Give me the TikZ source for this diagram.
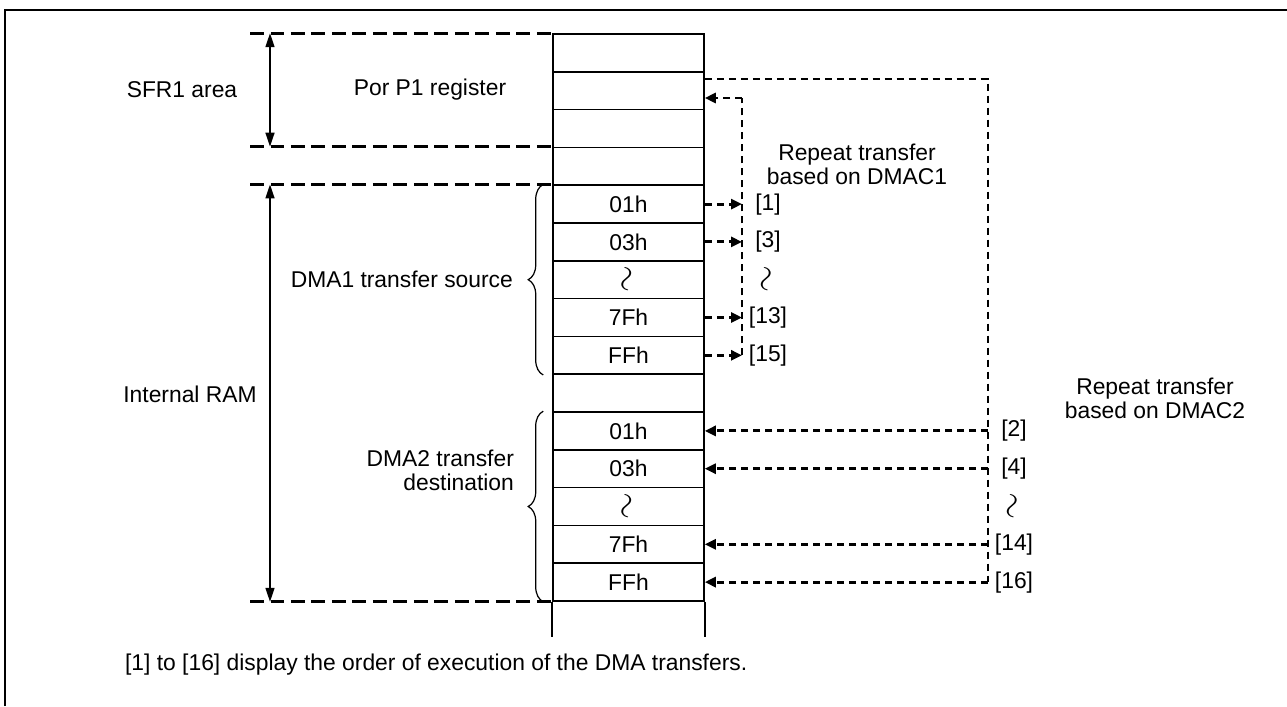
\documentclass[tikz,border=0pt]{standalone}
\usepackage{fontspec}
\usepackage{graphicx}
\setmainfont{Liberation Sans}
\usetikzlibrary{arrows.meta,decorations.pathreplacing}
\newcommand{\squig}{\rotatebox{80}{\scalebox{1.6}{$\sim$}}}

\begin{document}
\begin{tikzpicture}[x=0.02cm,y=-0.02cm,font=\fontsize{13}{13.5}\selectfont,>={Triangle[length=0.28cm,width=0.18cm]},
  cell/.style={draw,line width=0.9pt,minimum width=3.02cm,minimum height=0.756cm,inner sep=0pt},
  lbl/.style={inner sep=1pt,align=center},
  sep/.style={line width=1.5pt,dash pattern=on 0.28cm off 0.13cm},
  dim/.style={<->,line width=0.9pt},
  fl/.style={line width=1.6pt,dash pattern=on 0.15cm off 0.09cm},
  fla/.style={fl,-{Triangle[length=0.22cm,width=0.2cm]}},
  brc/.style={decorate,decoration={brace,amplitude=0.3cm},line width=0.7pt}]
\useasboundingbox (0,0) rectangle (1287,706);
\draw[line width=1.6pt] (5,706) -- (5,10) -- (1287,10);

% memory map
\foreach \k/\t in {0/{},1/{},2/{},3/{},4/01h,5/03h,6/{\squig},7/7Fh,8/FFh,
                   9/{},10/01h,11/03h,12/{\squig},13/7Fh,14/FFh}
  \node[cell] (r\k) at (628.5,{34+37.8*(\k+0.5)}) {\t};
\draw[line width=0.9pt] (r14.south west) -- ++(0,35);
\draw[line width=0.9pt] (r14.south east) -- ++(0,35);

% areas on the left
\coordinate (lx) at (250,0);
\coordinate (dx) at (270,0);
\foreach \k/\a in {0/north,3/north,4/north,14/south}
  \draw[sep] (lx |- r\k.\a) -- (r\k.\a\space west);
\draw[dim] (dx |- r0.north) -- (dx |- r3.north);
\draw[dim] (dx |- r4.north) -- (dx |- r14.south);
\node[lbl] (sfr) at (182,90) {SFR1 area};
\node[lbl] (ram) at (190,394) {Internal RAM};
\node[lbl] (por) at (430,90) {Por P1 register};

\draw[brc] ([xshift=-0.18cm]r8.south west) -- ([xshift=-0.18cm]r4.north west);
\draw[brc] ([xshift=-0.18cm]r14.south west) -- ([xshift=-0.18cm]r10.north west);
\node[lbl,anchor=east] (src) at (515,279) {DMA1 transfer source};
\node[lbl,anchor=east,align=right] (dst) at (516,470) {DMA2 transfer\\destination};

% DMAC1 repeat transfer
\coordinate (b1) at (742,98);
\coordinate (c1) at (768,0);
\draw[fl] (b1 |- r8.east) -- (b1);
\draw[fla] (b1) -- (r1.east |- b1);
\foreach \k in {4,5,7,8}
  \draw[fla] (r\k.east) -- (r\k.east -| b1);
\foreach \k/\t in {4/{[1]},5/{[3]},6/{\squig},7/{[13]},8/{[15]}}
  \node[lbl] (m\k) at (c1 |- r\k) {\t};
\node[lbl] (rep1) at (857,164) {Repeat transfer\\based on DMAC1};

% DMAC2 repeat transfer
\coordinate (b2) at (988,79);
\coordinate (c2) at (1014,0);
\draw[fl] (r1.east |- b2) -- (b2) -- (b2 |- r14.east);
\foreach \k in {10,11,13,14}
  \draw[fla] (r\k.east -| b2) -- (r\k.east);
\foreach \k/\t in {10/{[2]},11/{[4]},12/{\squig},13/{[14]},14/{[16]}}
  \node[lbl] (m\k) at (c2 |- r\k) {\t};
\node[lbl] (rep2) at (1155,398) {Repeat transfer\\based on DMAC2};

\node[lbl,anchor=west] (note) at (123,665) {[1] to [16] display the order of execution of the DMA transfers.};
\end{tikzpicture}
\end{document}
